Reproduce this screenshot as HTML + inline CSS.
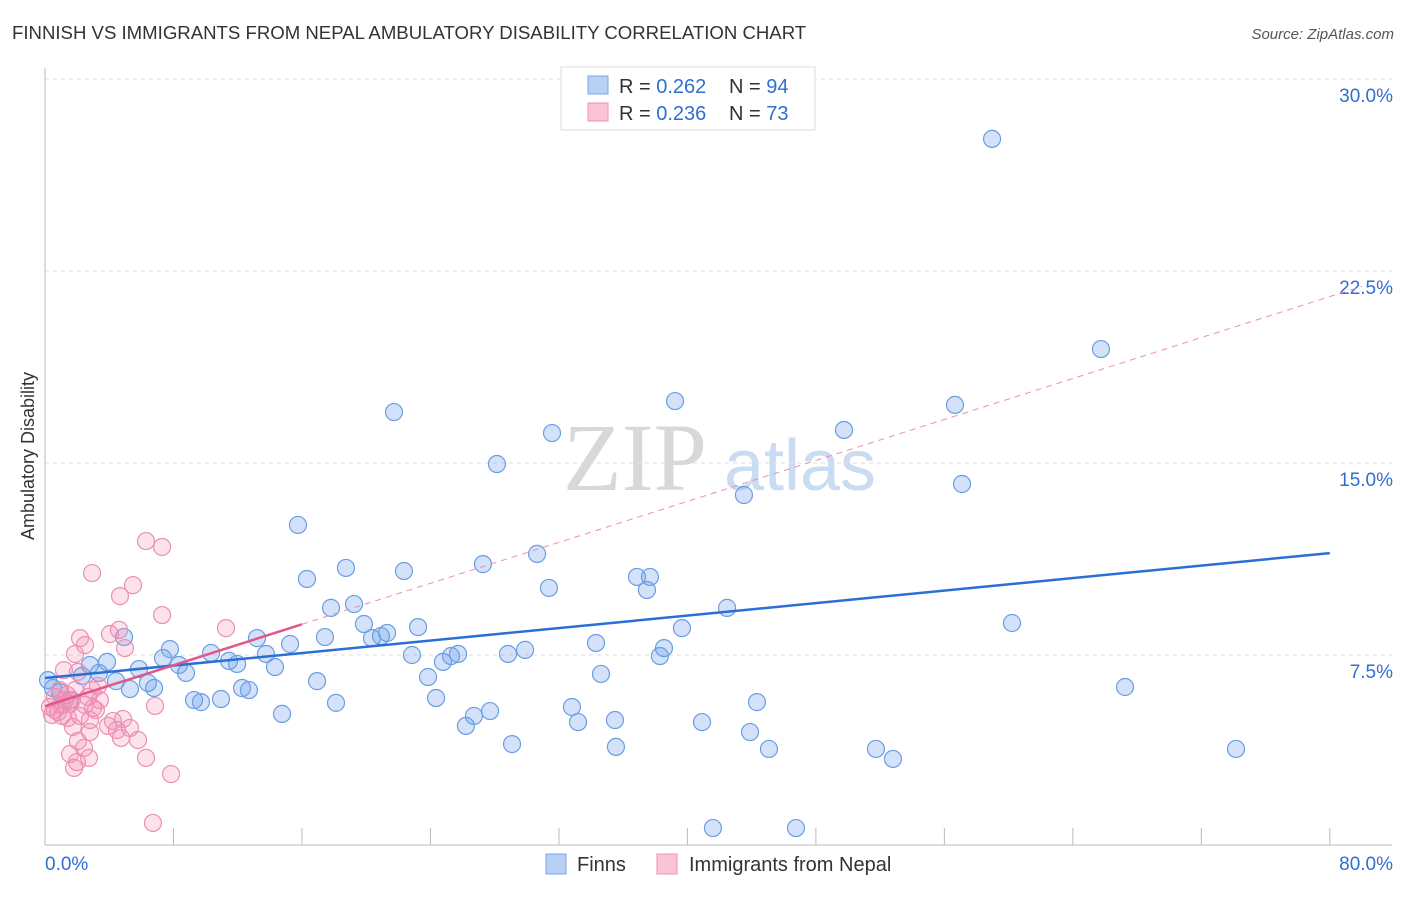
<!DOCTYPE html>
<html><head><meta charset="utf-8"><style>
body{margin:0;background:#fff;font-family:"Liberation Sans",sans-serif}
</style></head><body>
<svg width="1406" height="892" xmlns="http://www.w3.org/2000/svg" id="svg">
<text x="12" y="39" font-size="18.6" fill="#333">FINNISH VS IMMIGRANTS FROM NEPAL AMBULATORY DISABILITY CORRELATION CHART</text>
<text x="1394" y="39" font-size="15" fill="#555" font-style="italic" text-anchor="end">Source: ZipAtlas.com</text>
<g>
<text x="635" y="490" font-family="Liberation Serif,serif" font-size="96" fill="#d8d8d8" text-anchor="middle">ZIP</text>
<text x="800" y="490" font-size="72" fill="#c9dcf2" text-anchor="middle">atlas</text>
</g>
<g id="grid"></g>
<g id="axes"></g>
<g id="pts"></g>
<g id="trend"></g>
<g>
<rect x="561" y="67" width="254" height="63" fill="#fff" stroke="#ddd"/>
<rect x="588" y="76" width="20" height="18" fill="#b7d0f5" stroke="#7da6e2"/>
<rect x="588" y="103" width="20" height="18" fill="#fbc4d6" stroke="#ec93b2"/>
<text x="619" y="93" font-size="20" fill="#333">R = <tspan fill="#2f6fd1">0.262</tspan></text>
<text x="729" y="93" font-size="20" fill="#333">N = <tspan fill="#2f6fd1">94</tspan></text>
<text x="619" y="120" font-size="20" fill="#333">R = <tspan fill="#2f6fd1">0.236</tspan></text>
<text x="729" y="120" font-size="20" fill="#333">N = <tspan fill="#2f6fd1">73</tspan></text>
</g>
<g>
<rect x="546" y="854" width="20" height="20" fill="#b7d0f5" stroke="#7da6e2"/>
<text x="577" y="871" font-size="20" fill="#333">Finns</text>
<rect x="657" y="854" width="20" height="20" fill="#fbc4d6" stroke="#ec93b2"/>
<text x="689" y="871" font-size="20" fill="#333">Immigrants from Nepal</text>
</g>
<text transform="translate(34,456) rotate(-90)" font-size="18" fill="#333" text-anchor="middle">Ambulatory Disability</text>
</svg>
<script>
const blueX=[58.97,65.75,21.73,39.23,31.57,49.75,56.66,28.14,43.52,57.1,15.75,30.64,27.27,18.74,22.35,16.31,31.38,36.86,37.67,37.48,19.24,17.81,42.47,19.86,23.23,60.21,4.92,13.2,17.43,20.36,20.92,21.3,39.66,34.31,15.26,7.78,10.34,13.76,22.85,25.72,25.28,28.83,29.89,38.54,38.29,7.35,3.86,2.8,8.34,11.46,11.96,14.32,24.78,5.85,8.78,34.62,23.85,2.3,3.36,4.42,16.94,6.41,6.79,5.29,12.27,12.7,67.25,0.5,0.19,0.93,9.28,9.71,10.96,18.12,24.35,44.33,32.81,27.71,26.71,14.76,26.21,33.19,35.49,40.91,43.9,29.08,35.55,45.08,51.74,52.8,74.16,41.59,46.76,1.56];
const blueY=[27.66,19.45,16.99,17.42,16.17,16.29,17.27,14.96,13.75,14.18,12.58,11.45,11.05,10.9,10.78,10.47,10.12,10.55,10.55,10.04,9.49,9.34,9.34,8.71,8.59,8.75,8.2,8.16,8.2,8.16,8.24,8.36,8.55,7.97,7.93,7.73,7.58,7.54,7.5,7.54,7.46,7.54,7.7,7.77,7.46,7.38,7.23,7.11,7.11,7.27,7.15,7.03,7.23,6.95,6.8,6.76,6.64,6.68,6.8,6.48,6.48,6.41,6.21,6.17,6.21,6.13,6.25,6.21,6.52,6.05,5.74,5.66,5.78,5.63,5.82,5.66,5.47,5.31,5.12,5.2,4.73,4.88,4.96,4.88,4.49,4.02,3.91,3.83,3.83,3.44,3.83,0.74,0.74,5.74];
const pinkX=[6.29,7.29,2.93,5.48,4.67,7.29,11.27,4.05,2.18,4.61,2.49,4.98,1.87,1.18,2.05,3.3,1.87,2.68,0.62,1.25,1.56,0.31,0.81,1.06,0.44,1.43,2.18,2.49,2.99,3.17,6.85,2.8,4.23,4.86,3.92,5.29,4.48,1.74,2.8,4.73,5.79,2.05,2.43,1.56,1.99,2.74,1.81,6.29,7.85,6.72,0.93,1.37,1.68,1.06,0.62,3.42,2.93];
const pinkY=[11.95,11.72,10.7,10.23,9.8,9.06,8.55,8.32,8.16,8.48,7.89,7.77,7.54,6.91,6.84,6.29,6.13,5.86,5.86,5.74,5.59,5.47,5.27,5.12,5.16,5.04,5.12,5.55,5.43,5.35,5.51,4.96,4.92,5.0,4.73,4.65,4.57,4.69,4.49,4.26,4.18,4.14,3.87,3.63,3.32,3.48,3.09,3.48,2.85,0.94,6.13,5.94,5.74,5.55,5.35,5.74,6.13];
const yTicks=[7.5,15,22.5,30];
const yTickLabels=["7.5%","15.0%","22.5%","30.0%"];
const xTicks=[0,8,16,24,32,40,48,56,64,72,80];
const blueTrend=[6.6,11.48];
const pinkTrend=[5.5,0.2,16];
const NS="http://www.w3.org/2000/svg";
const sx=v=>45+v*16.06, sy=v=>847-v*25.6;
function mk(p,t,a){const e=document.createElementNS(NS,t);for(const k in a)e.setAttribute(k,a[k]);document.getElementById(p).appendChild(e);return e;}
yTicks.forEach((t,i)=>{
 const g=mk('grid','line',{x1:45,x2:1392,y1:sy(t),y2:sy(t),stroke:'#ddd','stroke-dasharray':'4,4'});
 
 
 const l=mk('axes','text',{x:1393,y:sy(t)+23,'font-size':19,fill:'#2f6fd1','text-anchor':'end'});
 l.textContent=yTickLabels[i];
 
 
});
const ya=mk('axes','line',{x1:45,x2:45,y1:68,y2:845,stroke:'#bbb'});


const xa=mk('axes','line',{x1:45,x2:1392,y1:845,y2:845,stroke:'#bbb'});


xTicks.forEach(t=>{const k=mk('axes','line',{x1:sx(t),x2:sx(t),y1:828,y2:845,stroke:'#bbb'});
 
 });
const x0=mk('axes','text',{x:45,y:870,'font-size':19,fill:'#2f6fd1'});x0.textContent=xTicks[0].toFixed(1)+'%';


const x1=mk('axes','text',{x:1393,y:870,'font-size':19,fill:'#2f6fd1','text-anchor':'end'});x1.textContent=xTicks[xTicks.length-1].toFixed(1)+'%';


blueX.forEach((x,i)=>{const c=mk('pts','circle',{cx:sx(x),cy:sy(blueY[i]),r:8.5,fill:'rgba(110,160,235,0.3)',stroke:'#6a9de3','stroke-width':1.2});
 
 });
pinkX.forEach((x,i)=>{const c=mk('pts','circle',{cx:sx(x),cy:sy(pinkY[i]),r:8.5,fill:'rgba(245,140,180,0.25)',stroke:'#ec8fb0','stroke-width':1.2});
 
 });
const bt=mk('trend','line',{x1:sx(0),y1:sy(blueTrend[0]),x2:sx(80),y2:sy(blueTrend[1]),stroke:'#2a6fd6','stroke-width':2.5});


const pd=mk('trend','line',{x1:sx(pinkTrend[2]),y1:sy(pinkTrend[0]+pinkTrend[1]*pinkTrend[2]),x2:sx(82),y2:sy(pinkTrend[0]+pinkTrend[1]*82),stroke:'#e890ae','stroke-width':1,'stroke-dasharray':'6,5'});


const ps=mk('trend','line',{x1:sx(0),y1:sy(pinkTrend[0]),x2:sx(pinkTrend[2]),y2:sy(pinkTrend[0]+pinkTrend[1]*pinkTrend[2]),stroke:'#e0578a','stroke-width':2.5});


</script>
</body></html>
